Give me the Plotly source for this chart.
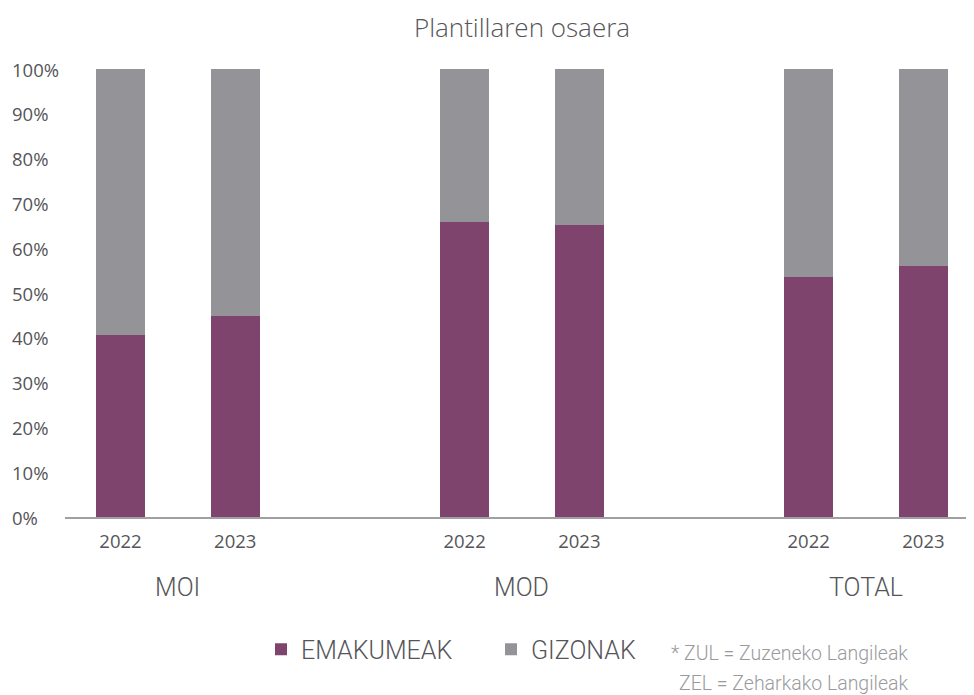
import plotly.graph_objects as go

groups = ["MOI", "MOD", "TOTAL"]
years = ["2022", "2023"]
emakumeak = [0.406, 0.449, 0.658, 0.652, 0.536, 0.561]
gizonak = [1 - v for v in emakumeak]
y_ticks = [0, 0.1, 0.2, 0.3, 0.4, 0.5, 0.6, 0.7, 0.8, 0.9, 1.0]
y_tick_labels = ["0%", "10%", "20%", "30%", "40%", "50%", "60%", "70%", "80%", "90%", "100%"]
footnote = ["* ZUL = Zuzeneko Langileak", "ZEL = Zeharkako Langileak"]

# positions: two bars per group, one empty slot between groups
xpos = []
xlab = []
for gi, g in enumerate(groups):
    for yi, yr in enumerate(years):
        xpos.append(gi * 3 + yi)
        xlab.append(yr)

PURPLE = "#7F446E"
GREY = "#949397"
TEXT = "#555559"
LIGHT = dict(family="Roboto", weight=300)
LIGHT_WIDE = dict(family="Open Sans", weight=300)

# page geometry helpers (plot area in page px)
PL, PT, PB, PW = 65, 69, 517, 917
def px(x):
    return (x - PL) / PW
def py(y):
    return (PB - y) / (PB - PT)

fig = go.Figure()
fig.add_trace(go.Bar(x=xpos, y=emakumeak, name="EMAKUMEAK", marker_color=PURPLE,
                     width=0.427, marker_line_width=0))
fig.add_trace(go.Bar(x=xpos, y=gizonak, name="GIZONAK", marker_color=GREY,
                     width=0.427, marker_line_width=0))

fig.update_layout(
    barmode="stack",
    width=974, height=695,
    margin=dict(l=57, r=0, t=61, b=186),
    paper_bgcolor="white", plot_bgcolor="white",
    title=dict(text="Plantillaren osaera", x=px(522), xref="paper", y=1 - 20 / 695,
               yanchor="middle", xanchor="center",
               font=dict(size=26, color=TEXT, **LIGHT_WIDE)),
    showlegend=True,
    legend=dict(orientation="h", x=px(261), xanchor="left", y=py(649.5), yanchor="middle",
                font=dict(size=25, color=TEXT, **LIGHT),
                entrywidth=185, entrywidthmode="pixels", traceorder="normal"),
    font=dict(family="Open Sans", color=TEXT),
)

fig.update_xaxes(range=[-0.484, 7.511], tickvals=xpos, ticktext=xlab,
                 showline=True, linecolor="#a0a0a3", linewidth=2,
                 showgrid=False, zeroline=False, ticks="",
                 tickfont=dict(size=18.5, color=TEXT, family="Open Sans"),
                 ticklabelstandoff=7, fixedrange=True)
fig.update_yaxes(range=[0, 1], showticklabels=False, showgrid=False,
                 zeroline=False, showline=False, fixedrange=True)

# left-aligned y tick labels
for v, t in zip(y_ticks, y_tick_labels):
    fig.add_annotation(text=t, xref="paper", x=px(10), xanchor="left",
                       yref="y", y=v, yanchor="middle", showarrow=False,
                       font=dict(size=18.5, color=TEXT, family="Open Sans"))

# group labels
for gi, g in enumerate(groups):
    fig.add_annotation(text=g, xref="x", x=gi * 3 + 0.5, yref="paper", y=py(587),
                       yanchor="middle", xanchor="center", showarrow=False,
                       font=dict(size=25, color=TEXT, **LIGHT))

for line, yc in zip(footnote, [653, 683]):
    fig.add_annotation(text=line, xref="paper", x=px(910), xanchor="right",
                       yref="paper", y=py(yc), yanchor="middle", showarrow=False,
                       font=dict(size=19.5, color="#9a9a9d", **LIGHT))

fig.write_html("out.html")
